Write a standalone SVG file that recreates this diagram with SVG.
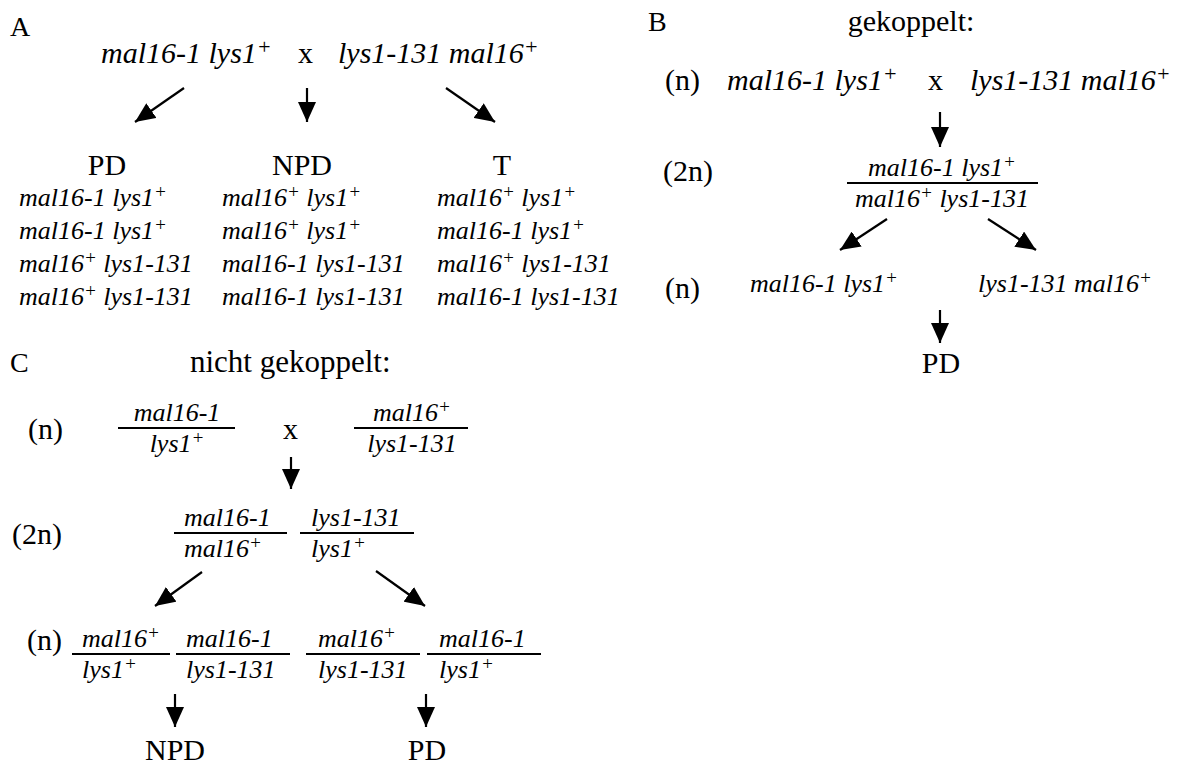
<svg xmlns="http://www.w3.org/2000/svg" width="1184" height="765" viewBox="0 0 1184 765">
<style>
text{font-family:"Liberation Serif","Times New Roman",serif;fill:#000}
.r{font-size:30px}
.lab{font-size:28px}
.gl{font-size:30px;font-style:italic}
.g{font-size:26px;font-style:italic}
.sl{font-size:22px;baseline-shift:9px}
.s{font-size:19px;baseline-shift:8px}
.c{text-anchor:middle}
.ln{stroke:#000;stroke-width:2.2;fill:none}
.ar{stroke:#000;stroke-width:2.2;fill:none;marker-end:url(#ah)}
</style>
<defs>
<marker id="ah" markerUnits="userSpaceOnUse" markerWidth="20" markerHeight="18" refX="20" refY="9" orient="auto">
<path d="M0,0 L20,9 L0,18 z" fill="#000"/>
</marker>
</defs>
<rect width="1184" height="765" fill="#fff"/>

<!-- Section A -->
<g id="A-label"><text class="lab" x="10" y="36">A</text></g>
<g id="A-parents">
<text class="gl" x="101" y="63">mal16-1 lys1<tspan class="sl">+</tspan></text>
<text class="r" x="298" y="63">x</text>
<text class="gl" x="338" y="63">lys1-131 mal16<tspan class="sl">+</tspan></text>
</g>
<g id="A-PD">
<text class="r c" x="107" y="175">PD</text>
<text class="g" x="19" y="206">mal16-1 lys1<tspan class="s">+</tspan></text>
<text class="g" x="19" y="239">mal16-1 lys1<tspan class="s">+</tspan></text>
<text class="g" x="19" y="272">mal16<tspan class="s">+</tspan> lys1-131</text>
<text class="g" x="19" y="305">mal16<tspan class="s">+</tspan> lys1-131</text>
</g>
<g id="A-NPD">
<text class="r c" x="302" y="175">NPD</text>
<text class="g" x="222" y="206">mal16<tspan class="s">+</tspan> lys1<tspan class="s">+</tspan></text>
<text class="g" x="222" y="239">mal16<tspan class="s">+</tspan> lys1<tspan class="s">+</tspan></text>
<text class="g" x="222" y="272">mal16-1 lys1-131</text>
<text class="g" x="222" y="305">mal16-1 lys1-131</text>
</g>
<g id="A-T">
<text class="r c" x="502" y="175">T</text>
<text class="g" x="437" y="206">mal16<tspan class="s">+</tspan> lys1<tspan class="s">+</tspan></text>
<text class="g" x="437" y="239">mal16-1 lys1<tspan class="s">+</tspan></text>
<text class="g" x="437" y="272">mal16<tspan class="s">+</tspan> lys1-131</text>
<text class="g" x="437" y="305">mal16-1 lys1-131</text>
</g>

<!-- Section B -->
<g id="B-label"><text class="lab" x="648" y="31">B</text></g>
<g id="B-title"><text class="r c" x="911" y="31">gekoppelt:</text></g>
<g id="B-parents">
<text class="r" x="665" y="90">(n)</text>
<text class="gl" x="727" y="90">mal16-1 lys1<tspan class="sl">+</tspan></text>
<text class="r" x="928" y="90">x</text>
<text class="gl" x="970" y="90">lys1-131 mal16<tspan class="sl">+</tspan></text>
</g>
<g id="B-diploid">
<text class="r" x="663" y="181">(2n)</text>
<text class="g c" x="942" y="176">mal16-1 lys1<tspan class="s">+</tspan></text>
<line class="ln" x1="847" y1="183" x2="1038" y2="183"/>
<text class="g c" x="942" y="207">mal16<tspan class="s">+</tspan> lys1-131</text>
</g>
<g id="B-haploid">
<text class="r" x="665" y="298">(n)</text>
<text class="g" x="750" y="292">mal16-1 lys1<tspan class="s">+</tspan></text>
<text class="g" x="978" y="292">lys1-131 mal16<tspan class="s">+</tspan></text>
</g>
<g id="B-PD"><text class="r c" x="941" y="373">PD</text></g>

<!-- Section C -->
<g id="C-label"><text class="lab" x="10" y="372">C</text></g>
<g id="C-title"><text class="r" x="190" y="372" style="font-size:31px">nicht gekoppelt:</text></g>
<g id="C-parents">
<text class="r" x="28" y="439">(n)</text>
<text class="g c" x="177" y="421">mal16-1</text>
<line class="ln" x1="118" y1="428" x2="235" y2="428"/>
<text class="g c" x="177" y="452">lys1<tspan class="s">+</tspan></text>
<text class="r" x="283" y="439">x</text>
<text class="g c" x="412" y="421">mal16<tspan class="s">+</tspan></text>
<line class="ln" x1="354" y1="428" x2="468" y2="428"/>
<text class="g c" x="412" y="452">lys1-131</text>
</g>
<g id="C-diploid">
<text class="r" x="12" y="544">(2n)</text>
<text class="g" x="184" y="526">mal16-1</text>
<line class="ln" x1="174" y1="533" x2="287" y2="533"/>
<text class="g" x="184" y="557">mal16<tspan class="s">+</tspan></text>
<text class="g" x="311" y="526">lys1-131</text>
<line class="ln" x1="300" y1="533" x2="414" y2="533"/>
<text class="g" x="311" y="557">lys1<tspan class="s">+</tspan></text>
</g>
<g id="C-haploid">
<text class="r" x="27" y="650">(n)</text>
<text class="g" x="82" y="647">mal16<tspan class="s">+</tspan></text>
<line class="ln" x1="72" y1="654" x2="170" y2="654"/>
<text class="g" x="82" y="678">lys1<tspan class="s">+</tspan></text>
<text class="g" x="186" y="647">mal16-1</text>
<line class="ln" x1="176" y1="654" x2="290" y2="654"/>
<text class="g" x="186" y="678">lys1-131</text>
<text class="g" x="318" y="647">mal16<tspan class="s">+</tspan></text>
<line class="ln" x1="306" y1="654" x2="420" y2="654"/>
<text class="g" x="318" y="678">lys1-131</text>
<text class="g" x="439" y="647">mal16-1</text>
<line class="ln" x1="427" y1="654" x2="541" y2="654"/>
<text class="g" x="439" y="678">lys1<tspan class="s">+</tspan></text>
</g>
<g id="C-NPD"><text class="r c" x="175" y="760">NPD</text></g>
<g id="C-PD"><text class="r c" x="427" y="760">PD</text></g>

<!-- connectors -->
<g id="connectors">
<line class="ar" x1="184" y1="88" x2="135" y2="122"/>
<line class="ar" x1="307" y1="88" x2="307" y2="122"/>
<line class="ar" x1="446" y1="88" x2="495" y2="122"/>
<line class="ar" x1="940" y1="112" x2="940" y2="147"/>
<line class="ar" x1="887" y1="219" x2="840" y2="250"/>
<line class="ar" x1="988" y1="219" x2="1036" y2="250"/>
<line class="ar" x1="940" y1="310" x2="940" y2="343"/>
<line class="ar" x1="291" y1="457" x2="291" y2="489"/>
<line class="ar" x1="202" y1="572" x2="155" y2="606"/>
<line class="ar" x1="376" y1="571" x2="425" y2="606"/>
<line class="ar" x1="175" y1="694" x2="175" y2="727"/>
<line class="ar" x1="426" y1="694" x2="426" y2="727"/>
</g>
</svg>
